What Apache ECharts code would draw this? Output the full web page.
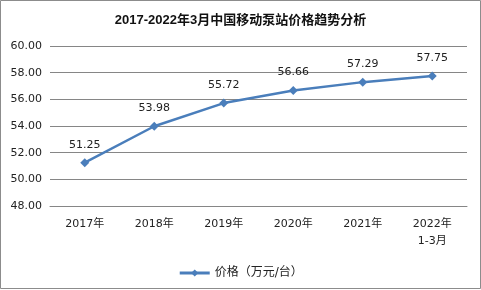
<!DOCTYPE html>
<html><head><meta charset="utf-8">
<script src="https://cdn.jsdelivr.net/npm/echarts@6/dist/echarts.min.js"></script>
<style>html,body{margin:0;padding:0;background:#fff}#c{width:481px;height:290px}</style>
</head><body><div id="c"></div>
<script>
const categories = ['2017年','2018年','2019年','2020年','2021年','2022年\n1-3月'];
const prices = [51.25, 53.98, 55.72, 56.66, 57.29, 57.75];
const seriesName = '价格（万元/台）';
const titleText = '2017-2022年3月中国移动泵站价格趋势分析';
const font = '"DejaVu Sans","Noto Sans CJK SC",sans-serif';
const chart = echarts.init(document.getElementById('c'), null, {renderer:'canvas'});
chart.setOption({
  animation:false,
  backgroundColor:'#fff',
  graphic:[{type:'rect',shape:{x:0.5,y:0.5,width:480,height:288},style:{fill:'none',stroke:'#8c8c8c',lineWidth:1},silent:true}],
  title:{text:titleText,left:'center',top:9,textStyle:{fontSize:13,fontWeight:'bold',color:'#111',fontFamily:'"Liberation Sans","Noto Sans CJK SC",sans-serif'}},
  legend:{top:262,left:'center',itemWidth:30,itemHeight:9,data:[{name:seriesName}],
    lineStyle:{width:3,color:'#4a7ebb'},
    textStyle:{fontSize:12,color:'#222',fontFamily:font},itemGap:5},
  grid:{left:50,right:14,top:46,bottom:84,containLabel:false},
  xAxis:{type:'category',data:categories,boundaryGap:true,
    axisLine:{show:true,lineStyle:{color:'#868686',width:1}},axisTick:{show:false},
    axisLabel:{fontSize:11,color:'#222',fontFamily:font,margin:10,lineHeight:17,interval:0}},
  yAxis:{type:'value',min:48,max:60,interval:2,
    axisLine:{show:false},axisTick:{show:false},
    splitLine:{lineStyle:{color:'#868686',width:1}},
    axisLabel:{fontSize:11,color:'#222',fontFamily:font,margin:8,formatter:v=>v.toFixed(2)}},
  series:[{name:seriesName,type:'line',data:prices,symbol:'diamond',symbolSize:9,
    lineStyle:{color:'#4a7ebb',width:2.5},itemStyle:{color:'#4a7ebb'},
    label:{show:true,position:'top',distance:8,fontSize:11,color:'#222',fontFamily:font,formatter:p=>p.value.toFixed(2)}}]
});
</script></body></html>
